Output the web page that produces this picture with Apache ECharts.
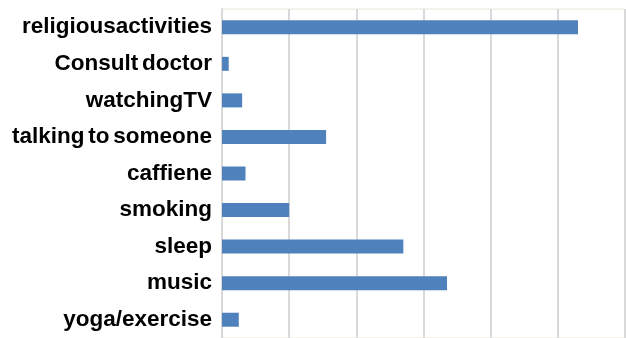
<!DOCTYPE html>
<html>
<head>
<meta charset="utf-8">
<style>
  html, body { margin: 0; padding: 0; background: #ffffff; }
  #chart { width: 626px; height: 338px; }
</style>
<script src="https://cdn.jsdelivr.net/npm/echarts@6/dist/echarts.min.js"></script>
</head>
<body>
<div id="chart"></div>
<script>
// Coping activities, listed top to bottom
const categories = [
  'religiousactivities',
  'Consult doctor',
  'watchingTV',
  'talking to someone',
  'caffiene',
  'smoking',
  'sleep',
  'music',
  'yoga/exercise'
];
const values = [53, 1, 3, 15.5, 3.5, 10, 27, 33.5, 2.5];

const xTicks = { min: 0, max: 60, interval: 10 };

const chart = echarts.init(document.getElementById('chart'), null, { renderer: 'canvas' });

chart.setOption({
  animation: false,
  backgroundColor: '#ffffff',
  grid: {
    left: 222,
    top: 9,
    width: 403,
    height: 333,
    show: true,
    borderColor: '#e8e6dc',
    borderWidth: 1,
    backgroundColor: 'transparent'
  },
  xAxis: {
    type: 'value',
    min: xTicks.min,
    max: xTicks.max,
    interval: xTicks.interval,
    axisLabel: { show: false },
    axisTick: { show: false },
    axisLine: { show: false },
    splitLine: { show: true, lineStyle: { color: '#d9d9d9', width: 2 } }
  },
  yAxis: {
    type: 'category',
    inverse: true,
    data: categories,
    axisTick: { show: false },
    axisLine: { show: true, lineStyle: { color: '#d9d9d9', width: 2 } },
    axisLabel: {
      margin: 10,
      color: '#000000',
      fontFamily: 'Liberation Sans, Arial, sans-serif',
      fontWeight: 'bold',
      fontSize: 22.5,
      // tight word spacing in the category names
      formatter: (name) => name.replace(/ /g, '\u2006')
    }
  },
  series: [{
    type: 'bar',
    data: values,
    barWidth: 14,
    itemStyle: { color: '#4f81bd' }
  }]
});
</script>
</body>
</html>
